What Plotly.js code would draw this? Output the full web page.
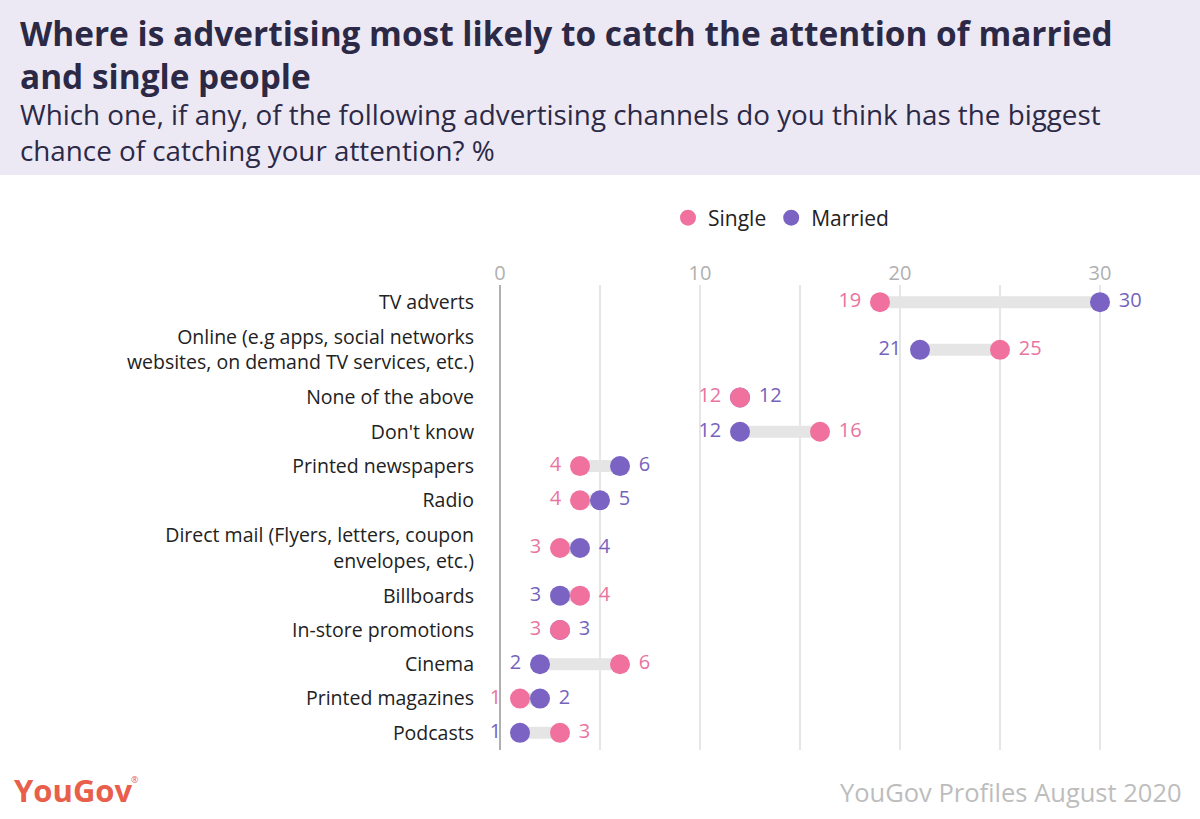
<!DOCTYPE html>
<html>
<head>
<meta charset="utf-8">
<script src="https://cdn.plot.ly/plotly-3.0.1.min.js"></script>
<style>html,body{margin:0;padding:0;background:#fff;}#chart{width:1200px;height:819px;}</style>
</head>
<body>
<div id="chart"></div>
<script>
// ---- data ----
const categories = [
  "TV adverts",
  "Online (e.g apps, social networks<br>websites, on demand TV services, etc.)",
  "None of the above",
  "Don't know",
  "Printed newspapers",
  "Radio",
  "Direct mail (Flyers, letters, coupon<br>envelopes, etc.)",
  "Billboards",
  "In-store promotions",
  "Cinema",
  "Printed magazines",
  "Podcasts"
];
const single  = [19, 25, 12, 16, 4, 4, 3, 4, 3, 6, 1, 3];
const married = [30, 21, 12, 12, 6, 5, 4, 3, 3, 2, 2, 1];
const xTicks = [0, 10, 20, 30];

const titleText = "<b>Where is advertising most likely to catch the attention of married<br>and single people</b>";
const subtitleText = "Which one, if any, of the following advertising channels do you think has the biggest<br>chance of catching your attention? %";
const sourceText = "YouGov Profiles August 2020";

// ---- style ----
const PINK = "#f0719e", PURPLE = "#7a63c3";
const PINK_TXT = "#e8749f", PURPLE_TXT = "#7563bd";
const FONT = "'Open Sans', Lato, sans-serif";
const NB = "\u00a0";
const W = 1200, H = 819, ML = 497, MR = 40, MT = 285, MB = 69;
const PW = W - ML - MR, PH = H - MT - MB;
const px = x => (x - ML) / PW;
const py = y => (H - MB - y) / PH;

// row positions: two-line labels get taller rows
let acc = 0;
const pos = categories.map(c => {
  const h = c.includes("<br>") ? 1.78 : 1;
  const p = acc + h / 2; acc += h; return p;
});
const total = acc;

// connectors
const cx = [], cy = [];
single.forEach((s, i) => { cx.push(s, married[i], null); cy.push(pos[i], pos[i], null); });

const sLeft = single.map((s, i) => s <= married[i]);
const sPos = sLeft.map(l => l ? "middle left" : "middle right");
const mPos = sLeft.map(l => l ? "middle right" : "middle left");
const sText = single.map((v, i) => sLeft[i] ? v + NB : NB + v);
const mText = married.map((v, i) => sLeft[i] ? NB + v : v + NB);

const traces = [
  {x: cx, y: cy, mode: "lines", line: {color: "#e5e5e5", width: 12}, hoverinfo: "skip", showlegend: false},
  {x: married, y: pos, name: "Married", mode: "markers+text", text: mText,
   textposition: mPos, textfont: {color: PURPLE_TXT, size: 20, family: FONT},
   marker: {color: PURPLE, size: 20}, cliponaxis: false, legendrank: 2},
  {x: single, y: pos, name: "Single", mode: "markers+text", text: sText,
   textposition: sPos, textfont: {color: PINK_TXT, size: 20, family: FONT},
   marker: {color: PINK, size: 20}, cliponaxis: false, legendrank: 1}
];

const layout = {
  width: W, height: H,
  margin: {l: ML, r: MR, t: MT, b: MB, pad: 0},
  paper_bgcolor: "#fff", plot_bgcolor: "#fff",
  font: {family: FONT, color: "#222"},
  showlegend: true,
  legend: {orientation: "h", x: px(668), xanchor: "left", y: py(218), yanchor: "middle",
           font: {size: 21, color: "#222", family: FONT}, itemclick: false, traceorder: "normal"},
  xaxis: {range: [-0.15, 33], side: "top", tickvals: xTicks, ticktext: xTicks.map(String),
          tickfont: {size: 20, color: "#b0b0b0", family: FONT}, showgrid: true, gridcolor: "#e6e6e6", gridwidth: 1.5,
          minor: {dtick: 5, tick0: 0, showgrid: true, gridcolor: "#e6e6e6", gridwidth: 1.5},
          zeroline: true, zerolinecolor: "#b0b0b0", zerolinewidth: 2, showline: false, ticks: "",
          fixedrange: true},
  yaxis: {range: [total, 0], tickvals: pos, ticktext: categories, showgrid: false, zeroline: false,
          tickfont: {size: 19.5, color: "#222", family: FONT}, ticks: "", ticklabelstandoff: 22, fixedrange: true},
  shapes: [
    {type: "rect", xref: "paper", yref: "paper", x0: px(0), x1: px(W), y0: py(175), y1: py(0),
     fillcolor: "#ece9f5", line: {width: 0}, layer: "below"}
  ],
  annotations: [
    {xref: "paper", yref: "paper", x: px(18), y: py(8), xanchor: "left", yanchor: "top", align: "left",
     text: titleText, showarrow: false, font: {size: 33.4, color: "#2c2946", family: FONT}},
    {xref: "paper", yref: "paper", x: px(18), y: py(93), xanchor: "left", yanchor: "top", align: "left",
     text: subtitleText, showarrow: false, font: {size: 27.8, color: "#2c2946", family: FONT}},
    {xref: "paper", yref: "paper", x: px(12), y: py(790), xanchor: "left", yanchor: "middle",
     text: "<b>YouGov</b>", showarrow: false, font: {size: 31, color: "#e8604c", family: FONT}},
    {xref: "paper", yref: "paper", x: px(129), y: py(779), xanchor: "left", yanchor: "middle",
     text: "®", showarrow: false, font: {size: 9, color: "#e8604c", family: FONT}},
    {xref: "paper", yref: "paper", x: px(1184), y: py(792), xanchor: "right", yanchor: "middle",
     text: sourceText, showarrow: false, font: {size: 25.5, color: "#bdbdbd", family: FONT}}
  ]
};

Plotly.newPlot("chart", traces, layout, {displayModeBar: false, staticPlot: true});
</script>
</body>
</html>
